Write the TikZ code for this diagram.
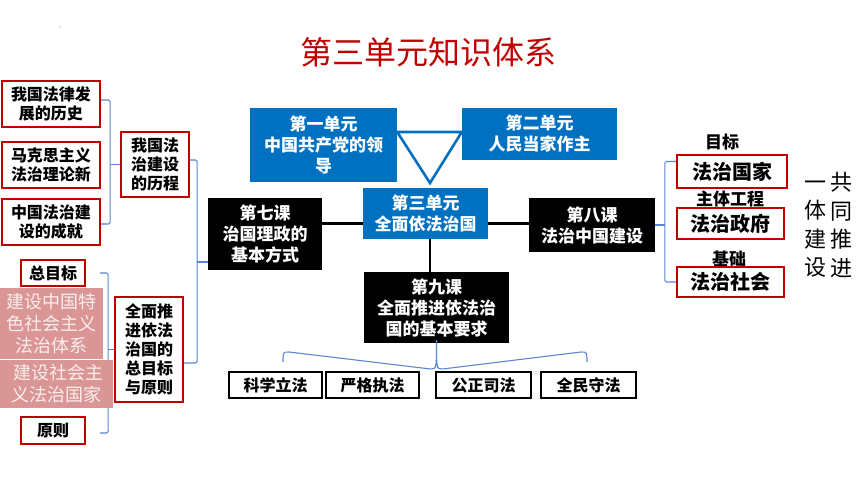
\documentclass[tikz,border=0pt]{standalone}
\usepackage{fontspec}
\setmainfont{Noto Sans CJK SC}
\usetikzlibrary{decorations.pathreplacing}
\definecolor{tred}{HTML}{C00000}
\definecolor{tblue}{HTML}{0070C0}
\definecolor{lblue}{HTML}{5B86D2}
\definecolor{tpink}{HTML}{D99694}
\definecolor{ptext}{HTML}{FBEEEE}
\newcommand\myfs[2]{\fontsize{#1}{#2}\selectfont}
\begin{document}
\begin{tikzpicture}[x=1pt,y=-1pt,
  box/.style={rectangle,inner sep=0pt,align=center},
  redbox/.style={box,draw=tred,line width=2.2pt,fill=white,font=\bfseries\myfs{16}{19}},
  bluebox/.style={box,fill=tblue,text=white,font=\bfseries\myfs{17}{21}},
  blackbox/.style={box,fill=black,text=white,font=\bfseries\myfs{17}{21}},
  outbox/.style={box,draw=black,line width=2pt,fill=white,font=\bfseries\myfs{16}{19}},
  pinkbox/.style={box,fill=tpink,text=ptext,font=\myfs{18}{22}},
  bigred/.style={redbox,font=\bfseries\myfs{20}{24}},
  lab/.style={inner sep=0pt,font=\bfseries\myfs{17}{20}},
  vtext/.style={inner sep=0pt,align=center,font=\myfs{22}{28.5}},
  brk/.style={draw=lblue,line width=1.1pt,rounded corners=1.5pt},
  conn/.style={draw=black,line width=2.4pt},
  triline/.style={draw=tblue,line width=2.6pt,fill=white,line join=miter}]
\useasboundingbox (0,0) rectangle (860,484);
\fill[gray] (60,27) circle (0.6);
\node[font=\myfs{32}{38},text=tred] (title) at (428,52) {第三单元知识体系};
% left column
\node[redbox,minimum width=98,minimum height=46] (l1) at (51,104) {我国法律发\\展的历史};
\node[redbox,minimum width=98,minimum height=46] (l2) at (51,165) {马克思主义\\法治理论新};
\node[redbox,minimum width=98,minimum height=46] (l3) at (51,222) {中国法治建\\设的成就};
\node[redbox,minimum width=68,minimum height=65] (hist) at (155,164.5) {我国法\\治建设\\的历程};
\node[redbox,minimum width=68,minimum height=105] (goal) at (149,349.5) {全面推\\进依法\\治国的\\总目标\\与原则};
\node[redbox,minimum width=64,minimum height=26] (zmb) at (53,273) {总目标};
\node[redbox,minimum width=64,minimum height=27] (yz) at (53,430.5) {原则};
% centre
\node[bluebox,minimum width=147,minimum height=74] (u1) at (323.5,145) {第一单元\\中国共产党的领\\导};
\node[bluebox,minimum width=155,minimum height=52] (u2) at (539.5,134) {第二单元\\人民当家作主};
\coordinate (apex) at (430,183);
\draw[triline] (u1.east |- 0,132) -- (u2.west |- 0,132) -- (apex) -- cycle;
\node[bluebox,minimum width=125,minimum height=51] (u3) at (425.5,213.5) {第三单元\\全面依法治国};
\node[blackbox,minimum width=114,minimum height=72] (ke7) at (265,234) {第七课\\治国理政的\\基本方式};
\node[blackbox,minimum width=126,minimum height=54] (ke8) at (592,225) {第八课\\法治中国建设};
\node[blackbox,minimum width=145,minimum height=71] (ke9) at (436.5,307.5) {第九课\\全面推进依法治\\国的基本要求};
\coordinate (ul) at ([yshift=-10pt]u3.west);
\coordinate (ur) at ([yshift=-10pt]u3.east);
\draw[conn] (ke7.east |- ul) -- (ul);
\draw[conn] (ur) -- (ke8.west |- ur);
\draw[conn] (apex |- u3.south) -- (apex |- ke9.north);
% bottom
\node[outbox,minimum width=93,minimum height=26] (b1) at (275.5,385) {科学立法};
\node[outbox,minimum width=93,minimum height=26] (b2) at (372.5,385) {严格执法};
\node[outbox,minimum width=95,minimum height=26] (b3) at (483.5,385) {公正司法};
\node[outbox,minimum width=95,minimum height=26] (b4) at (588.5,385) {全民守法};
\coordinate (bl) at ([xshift=7.5pt,yshift=9pt]b1.north);
\coordinate (br) at ([xshift=-1.5pt,yshift=9pt]b4.north);
\coordinate (tip) at ([yshift=3pt]ke9.south);
\draw[brk,rounded corners=0pt] (bl) .. controls ([yshift=10pt]bl) .. ([xshift=6pt,yshift=10pt]bl)
  -- ([xshift=-6pt,yshift=-7pt]tip |- bl) .. controls ([yshift=-7pt]tip |- bl) .. (tip)
  .. controls ([yshift=-7pt]tip |- bl) .. ([xshift=6pt,yshift=-7pt]tip |- bl)
  -- ([xshift=-6pt,yshift=10pt]br) .. controls ([yshift=10pt]br) .. (br);
% right
\node[lab] (mb) at (722,142) {目标};
\node[bigred,minimum width=110,minimum height=33] (fzgj) at (732,171.5) {法治国家};
\node[lab] (ztgc) at (730,199) {主体工程};
\node[bigred,minimum width=107,minimum height=31] (fzzf) at (730.5,223.5) {法治政府};
\node[lab] (jc) at (729,259) {基础};
\node[bigred,minimum width=107,minimum height=30] (fzsh) at (730.5,282) {法治社会};
\node[vtext] (v1) at (815,225) {\vphantom{共}一\\体\\建\\设};
\node[vtext] (v2) at (841,225) {共\\同\\推\\进};
% brackets
\draw[brk] ([yshift=4pt]l1.east) -- ++(9,0) coordinate (c1) |- ([yshift=-2pt]l3.east);
\draw[brk] (c1 |- hist.west) -- (hist.west);
\draw[brk] ([yshift=4.5pt]hist.east) -- ++(7,0) coordinate (c2) |- ([yshift=-13.5pt]goal.east);
\draw[brk] (c2 |- 0,262) -- ([yshift=-28pt]ke7.west);
\draw[brk] ([xshift=14pt]zmb.east) -- ++(8,0) coordinate (c3) |- ([xshift=14pt,yshift=-2.5pt]yz.east);
\draw[brk] (c3 |- goal.west) -- (goal.west);
\draw[brk] ([yshift=10pt]fzgj.west) -- ++(-11,0) coordinate (c4) |- (fzsh.west);
\draw[brk] (ke8.east) -- (c4 |- ke8.east);
% pink boxes
\node[pinkbox,minimum width=103,minimum height=71] (pk1) at (51.5,323.5) {建设中国特\\色社会主义\\法治体系};
\node[pinkbox,minimum width=113,minimum height=48] (pk2) at (56.5,383.5) {\hspace*{5pt}建设社会主\\义法治国家};
\end{tikzpicture}
\end{document}
